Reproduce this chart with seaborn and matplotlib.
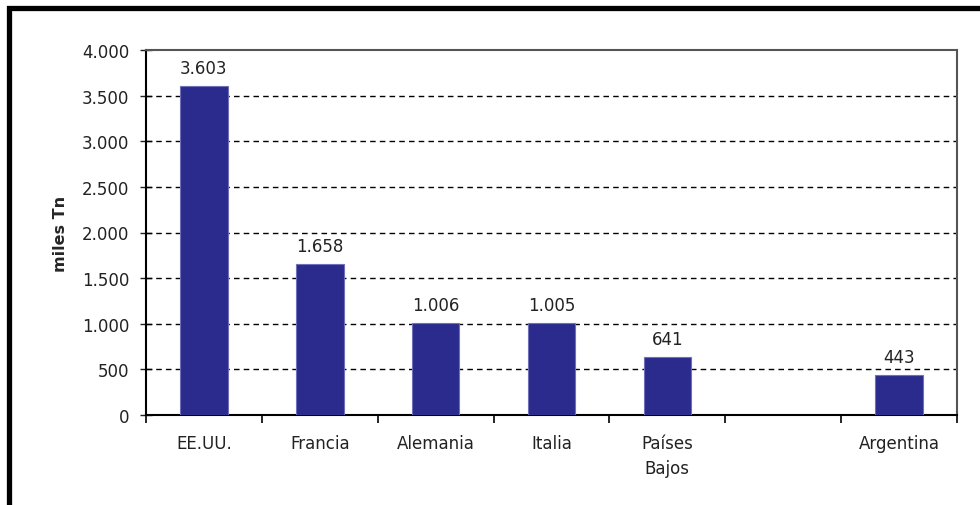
import matplotlib
matplotlib.use("Agg")
import matplotlib.pyplot as plt
import seaborn as sns
import pandas as pd
import numpy as np
from matplotlib.patches import Rectangle
from matplotlib.ticker import FixedLocator

sns.set_style("white")
plt.rcParams['font.family'] = ['DejaVu Sans']

categories = ["EE.UU.", "Francia", "Alemania", "Italia", "Países\nBajos", " ", "Argentina"]
values = [3603, 1658, 1006, 1005, 641, np.nan, 443]
y_ticks = [0, 500, 1000, 1500, 2000, 2500, 3000, 3500, 4000]
y_tick_labels = ["0", "500", "1.000", "1.500", "2.000", "2.500", "3.000", "3.500", "4.000"]

df = pd.DataFrame({"pais": categories, "miles": values})

fig = plt.figure(figsize=(9.8, 5.06), dpi=100)
ax = fig.add_axes([146/980, 1 - 416/506, (957-146)/980, (416-51)/506])

sns.barplot(data=df, x="pais", y="miles", order=categories, color="#2B2B8E",
            saturation=1, width=0.41, edgecolor="#7070B8", linewidth=0.8, ax=ax, zorder=3)

ax.set_ylim(0, 4000)
ax.set_xlim(-0.5, len(categories) - 0.5)
ax.set_yticks(y_ticks)
ax.set_yticklabels(y_tick_labels)
for y in y_ticks[1:-1]:
    ax.axhline(y, color="black", linestyle=(0, (4, 3)), linewidth=1.0, zorder=1)

ax.set_xlabel("")
ax.set_ylabel("miles Tn", fontsize=11.5, fontweight="bold", labelpad=10)

ax.tick_params(axis="y", direction="inout", length=8, width=1, labelsize=12, pad=8, colors="#222222", left=True)
ax.tick_params(axis="x", which="major", length=0, labelsize=12, pad=14, colors="#222222")
for lbl in ax.get_xticklabels():
    lbl.set_linespacing(1.5)
ax.xaxis.set_minor_locator(FixedLocator(np.arange(-0.5, len(categories), 1.0)))
ax.tick_params(axis="x", which="minor", direction="out", length=6, width=1.2, bottom=True, color="black")

for s in ["left", "bottom"]:
    ax.spines[s].set_color("black")
    ax.spines[s].set_linewidth(1.5)
for s in ["top", "right"]:
    ax.spines[s].set_color("#555555")
    ax.spines[s].set_linewidth(1.5)
    ax.spines[s].set_visible(True)

for i, v in enumerate(values):
    if not np.isnan(v):
        ax.annotate(f"{v:,.0f}".replace(",", "."), (i, v), xytext=(0, 9),
                    textcoords="offset pixels", ha="center", va="bottom", fontsize=12, color="#222222")

fig.patches.append(Rectangle((8.5/980, -0.2), 2.0, 1.2 - 8.5/506, transform=fig.transFigure,
                             fill=False, edgecolor="black", linewidth=3.8))

fig.savefig("out.png", dpi=100)
